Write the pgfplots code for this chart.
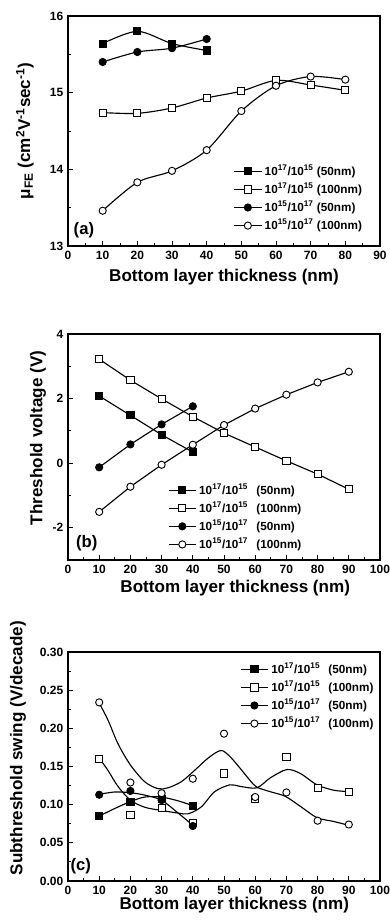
\documentclass[border=0pt]{standalone}
\usepackage{fontspec}
\setmainfont{Liberation Sans}
\usepackage{pgfplots}
\pgfplotsset{compat=1.18}
\begin{document}
\begin{tikzpicture}
\pgfplotsset{
 panel/.style={
  scale only axis, width=234pt,
  axis line style={line width=1.1pt},
  tick style={line width=0.7pt, black},
  major tick length=3.5pt, minor tick length=2pt,
  tick align=inside,
  xtick pos=bottom, ytick pos=left,
  minor x tick num=1, minor y tick num=1,
  tick label style={font=\bfseries\fontsize{9}{10}\selectfont},
  label style={font=\bfseries\fontsize{12.8}{14}\selectfont},
  /pgf/number format/assume math mode=true,
  legend style={draw=none, fill=none, font=\bfseries\fontsize{8.8}{10}\selectfont, row sep=0pt, cells={anchor=west}, inner sep=0pt},
  legend image code/.code={\draw[mark repeat=2,mark phase=2] plot coordinates {(0cm,0cm) (0.36cm,0cm) (0.72cm,0cm)};},
 },
 fsq/.style={black, line width=0.85pt, mark=square*, mark size=2.7pt, mark options={solid, fill=black, line width=0.7pt}},
 osq/.style={black, line width=0.85pt, mark=square*, mark size=2.7pt, mark options={solid, fill=white, line width=0.7pt}},
 fci/.style={black, line width=0.85pt, mark=*, mark size=2.7pt, mark options={solid, fill=black, line width=0.7pt}},
 oci/.style={black, line width=0.85pt, mark=*, mark size=2.7pt, mark options={solid, fill=white, line width=0.7pt}},
}
% ---------------- (a)
\begin{axis}[panel, at={(51pt,507.75pt)}, anchor=south west, height=172.5pt,
  xmin=0, xmax=90, ymin=13, ymax=16, xtick={0,10,...,90}, ytick={13,14,15,16},
  xlabel={Bottom layer thickness (nm)},
  ylabel={μ\textsubscript{FE} (cm\textsuperscript{2}V\textsuperscript{-1}sec\textsuperscript{-1})},
  xlabel style={at={(axis description cs:0.5,-0.135)}, anchor=center},
  ylabel style={at={(axis description cs:-0.138,0.5)}, anchor=center},
  legend style={at={(axis description cs:0.53,0.365)}, anchor=north west},
]
\addplot[smooth, fsq] coordinates {(10,15.64) (20,15.80) (30,15.64) (40,15.55)};
\addlegendentry{10\textsuperscript{17}/10\textsuperscript{15} (50nm)}
\addplot[smooth, osq] coordinates {(10,14.74) (20,14.73) (30,14.80) (40,14.93) (50,15.02) (60,15.16) (70,15.10) (80,15.03)};
\addlegendentry{10\textsuperscript{17}/10\textsuperscript{15} (100nm)}
\addplot[smooth, fci] coordinates {(10,15.40) (20,15.53) (30,15.58) (40,15.70)};
\addlegendentry{10\textsuperscript{15}/10\textsuperscript{17} (50nm)}
\addplot[smooth, oci] coordinates {(10,13.46) (20,13.83) (30,13.98) (40,14.25) (50,14.76) (60,15.09) (70,15.21) (80,15.17)};
\addlegendentry{10\textsuperscript{15}/10\textsuperscript{17} (100nm)}
\node[font=\bfseries\fontsize{12.5}{14}\selectfont] at (axis description cs:0.051,0.07) {(a)};
\end{axis}
% ---------------- (b)
\begin{axis}[panel, at={(51pt,272.25pt)}, anchor=south west, height=169.5pt,
  xmin=0, xmax=100, ymin=-3, ymax=4, xtick={0,10,...,100}, ytick={-2,0,2,4},
  xlabel={Bottom layer thickness (nm)},
  ylabel={Threshold voltage (V)},
  xlabel style={at={(axis description cs:0.536,-0.124)}, anchor=center},
  ylabel style={at={(axis description cs:-0.096,0.54)}, anchor=center},
  legend style={at={(axis description cs:0.32,0.35)}, anchor=north west},
]
\addplot[fsq] coordinates {(10,2.08) (20,1.48) (30,0.88) (40,0.34)};
\addlegendentry{10\textsuperscript{17}/10\textsuperscript{15}\hspace{0.7em}(50nm)}
\addplot[osq] coordinates {(10,3.22) (20,2.57) (30,1.99) (40,1.44) (50,0.93) (60,0.50) (70,0.07) (80,-0.34) (90,-0.81)};
\addlegendentry{10\textsuperscript{17}/10\textsuperscript{15}\hspace{0.7em}(100nm)}
\addplot[fci] coordinates {(10,-0.13) (20,0.58) (30,1.20) (40,1.76)};
\addlegendentry{10\textsuperscript{15}/10\textsuperscript{17}\hspace{0.7em}(50nm)}
\addplot[oci] coordinates {(10,-1.51) (20,-0.73) (30,-0.05) (40,0.57) (50,1.18) (60,1.69) (70,2.12) (80,2.50) (90,2.83)};
\addlegendentry{10\textsuperscript{15}/10\textsuperscript{17}\hspace{0.7em}(100nm)}
\node[font=\bfseries\fontsize{12.5}{14}\selectfont] at (axis description cs:0.06,0.073) {(b)};
\end{axis}
% ---------------- (c)
\begin{axis}[panel, at={(51pt,31.5pt)}, anchor=south west, height=171.75pt,
  xmin=0, xmax=100, ymin=0, ymax=0.30, xtick={0,10,...,100}, ytick={0,0.05,...,0.30},
  yticklabel style={/pgf/number format/.cd, fixed, fixed zerofill, precision=2},
  xlabel={Bottom layer thickness (nm)},
  ylabel={Subthreshold swing (V/decade)},
  xlabel style={at={(axis description cs:0.533,-0.105)}, anchor=center},
  ylabel style={at={(axis description cs:-0.16,0.58)}, anchor=center},
  legend style={at={(axis description cs:0.551,0.965)}, anchor=north west},
]
\addlegendimage{fsq}
\addlegendentry{10\textsuperscript{17}/10\textsuperscript{15}\hspace{0.7em}(50nm)}
\addlegendimage{osq}
\addlegendentry{10\textsuperscript{17}/10\textsuperscript{15}\hspace{0.7em}(100nm)}
\addlegendimage{fci}
\addlegendentry{10\textsuperscript{15}/10\textsuperscript{17}\hspace{0.7em}(50nm)}
\addlegendimage{oci}
\addlegendentry{10\textsuperscript{15}/10\textsuperscript{17}\hspace{0.7em}(100nm)}
% fitted curves
\addplot[smooth, black, line width=0.85pt, forget plot] coordinates {(10,0.233) (12.8,0.211) (16,0.180) (20,0.152) (24.6,0.130) (28.8,0.121) (32,0.122) (36.3,0.130) (40.6,0.145) (44.9,0.161) (49,0.171) (51.9,0.163) (55.1,0.148) (58.3,0.132) (60.5,0.123) (64.8,0.117) (69.6,0.111) (74.4,0.098) (79.8,0.083) (85.1,0.078) (90,0.073)};
\addplot[smooth, black, line width=0.85pt, forget plot] coordinates {(10,0.161) (12.8,0.145) (16,0.124) (20,0.106) (24.6,0.0966) (29.9,0.0925) (35.3,0.089) (38.5,0.088) (42.7,0.097) (47,0.117) (51.9,0.126) (55.1,0.124) (60.5,0.122) (64.8,0.135) (70.1,0.146) (74.4,0.141) (79.8,0.126) (85.1,0.119) (90,0.117)};
\addplot[smooth, black, line width=0.85pt, forget plot] coordinates {(10,0.085) (15,0.095) (20,0.104) (24.6,0.110) (29.9,0.110) (35.3,0.105) (40,0.0987)};
\addplot[smooth, black, line width=0.85pt, forget plot] coordinates {(10,0.1136) (15,0.1166) (20,0.1157) (24.6,0.1125) (29.9,0.106) (35.3,0.089) (40,0.073)};
% data points
\addplot[only marks, fsq, forget plot] coordinates {(10,0.0856) (20,0.104) (30,0.107) (40,0.098)};
\addplot[only marks, osq, forget plot] coordinates {(10,0.160) (20,0.087) (30,0.096) (40,0.076) (50,0.141) (60,0.107) (70,0.162) (80,0.122) (90,0.117)};
\addplot[only marks, fci, forget plot] coordinates {(10,0.113) (20,0.118) (30,0.106) (40,0.072)};
\addplot[only marks, oci, forget plot] coordinates {(10,0.234) (20,0.129) (30,0.115) (40,0.134) (50,0.193) (60,0.110) (70,0.116) (80,0.079) (90,0.074)};
\node[font=\bfseries\fontsize{12.5}{14}\selectfont] at (axis description cs:0.041,0.066) {(c)};
\end{axis}
\pgfresetboundingbox
\path[use as bounding box] (0pt,0pt) rectangle (291.75pt,692.25pt);
\end{tikzpicture}
\end{document}
